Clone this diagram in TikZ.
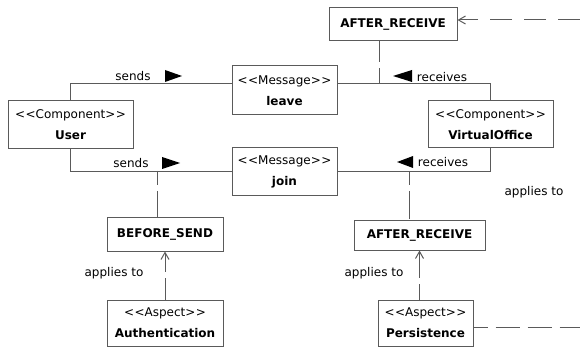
\documentclass[tikz,border=0pt]{standalone}
\usepackage{fontspec}
\setmainfont{DejaVu Sans}
\usetikzlibrary{arrows.meta}
\definecolor{umlgray}{RGB}{90,90,90}
\newcommand{\stereo}[1]{<\kern0.5pt<#1>\kern0.5pt>}

\begin{document}
\begin{tikzpicture}[x=1pt,y=-1pt,>={Straight Barb[length=7pt,width=8pt]},
  font=\fontsize{12}{21}\selectfont,
  box/.style={draw=umlgray,line width=1pt,align=center,inner sep=0pt},
  assoc/.style={draw=umlgray,line width=1pt},
  dep/.style={draw=umlgray,line width=1pt,dash pattern=on 28pt off 6pt}]
\useasboundingbox (0,0) rectangle (580,347);
\node[box,minimum width=125pt,minimum height=48pt] (user) at (70.5,125) {\stereo{Component}\\\textbf{User}};
\node[box,minimum width=105pt,minimum height=49pt] (leave) at (284.5,90.5) {\stereo{Message}\\\textbf{leave}};
\node[box,minimum width=105pt,minimum height=48pt] (join) at (284.5,172) {\stereo{Message}\\\textbf{join}};
\node[box,minimum width=125pt,minimum height=47pt] (office) at (490.5,124.5) {\stereo{Component}\\\textbf{VirtualOffice}};
\node[box,minimum width=128pt,minimum height=33pt] (recvtop) at (393,24.5) {\textbf{AFTER\_RECEIVE}};
\node[box,minimum width=116pt,minimum height=33pt] (send) at (165,234.5) {\textbf{BEFORE\_SEND}};
\node[box,minimum width=131pt,minimum height=30pt] (recvbot) at (419.5,235) {\textbf{AFTER\_RECEIVE}};
\node[box,minimum width=116pt,minimum height=46pt] (auth) at (165,323) {\stereo{Aspect}\\\textbf{Authentication}};
\node[box,minimum width=95pt,minimum height=46pt] (pers) at (425.5,323) {\stereo{Aspect}\\\textbf{Persistence}};
\coordinate (tapA) at (379,84);
\coordinate (tapB) at (157,171);
\coordinate (tapC) at (409,171);
\coordinate (edgeA) at (580,20);
\coordinate (edgeB) at (580,327);
\draw[assoc] (user.north) |- ([yshift=6.5pt]leave.west);
\draw[assoc] ([yshift=6.5pt]leave.east) -| (office.north);
\draw[assoc] (user.south) |- (join.west);
\draw[assoc] (join.east) -| (office.south);
\draw[dep,dash phase=12pt] (tapA) -- (tapA |- recvtop.south);
\draw[dep,dash phase=14pt] (tapB) -- (tapB |- send.north);
\draw[dep,dash phase=14pt] (tapC) -- (tapC |- recvbot.north);
\draw[dep,->,dash phase=6pt] (auth) -- (send);
\draw[dep,->,dash phase=12pt] (pers.north -| recvbot) -- (recvbot.south);
\draw[dep,->,dash pattern=on 22pt off 12pt] (edgeA) -- (edgeA -| recvtop.east);
\draw[dep,dash pattern=on 24pt off 8pt,dash phase=10pt] (pers.east |- edgeB) -- (edgeB);
\node (sendA) at (133,76) {sends};
\node (sendB) at (131,163) {sends};
\node (recvA) at (442,77.5) {receives};
\node (recvB) at (443,162.5) {receives};
\node (appA) at (114,273) {applies to};
\node (appB) at (374,273) {applies to};
\node (appC) at (534,192) {applies to};
\fill (165,70) -- (182,76) -- (165,82) -- cycle;
\fill (162,157) -- (180,163) -- (162,169) -- cycle;
\fill (412,70) -- (393,76) -- (412,82) -- cycle;
\fill (413,156) -- (397,162) -- (413,168) -- cycle;
\end{tikzpicture}
\end{document}
